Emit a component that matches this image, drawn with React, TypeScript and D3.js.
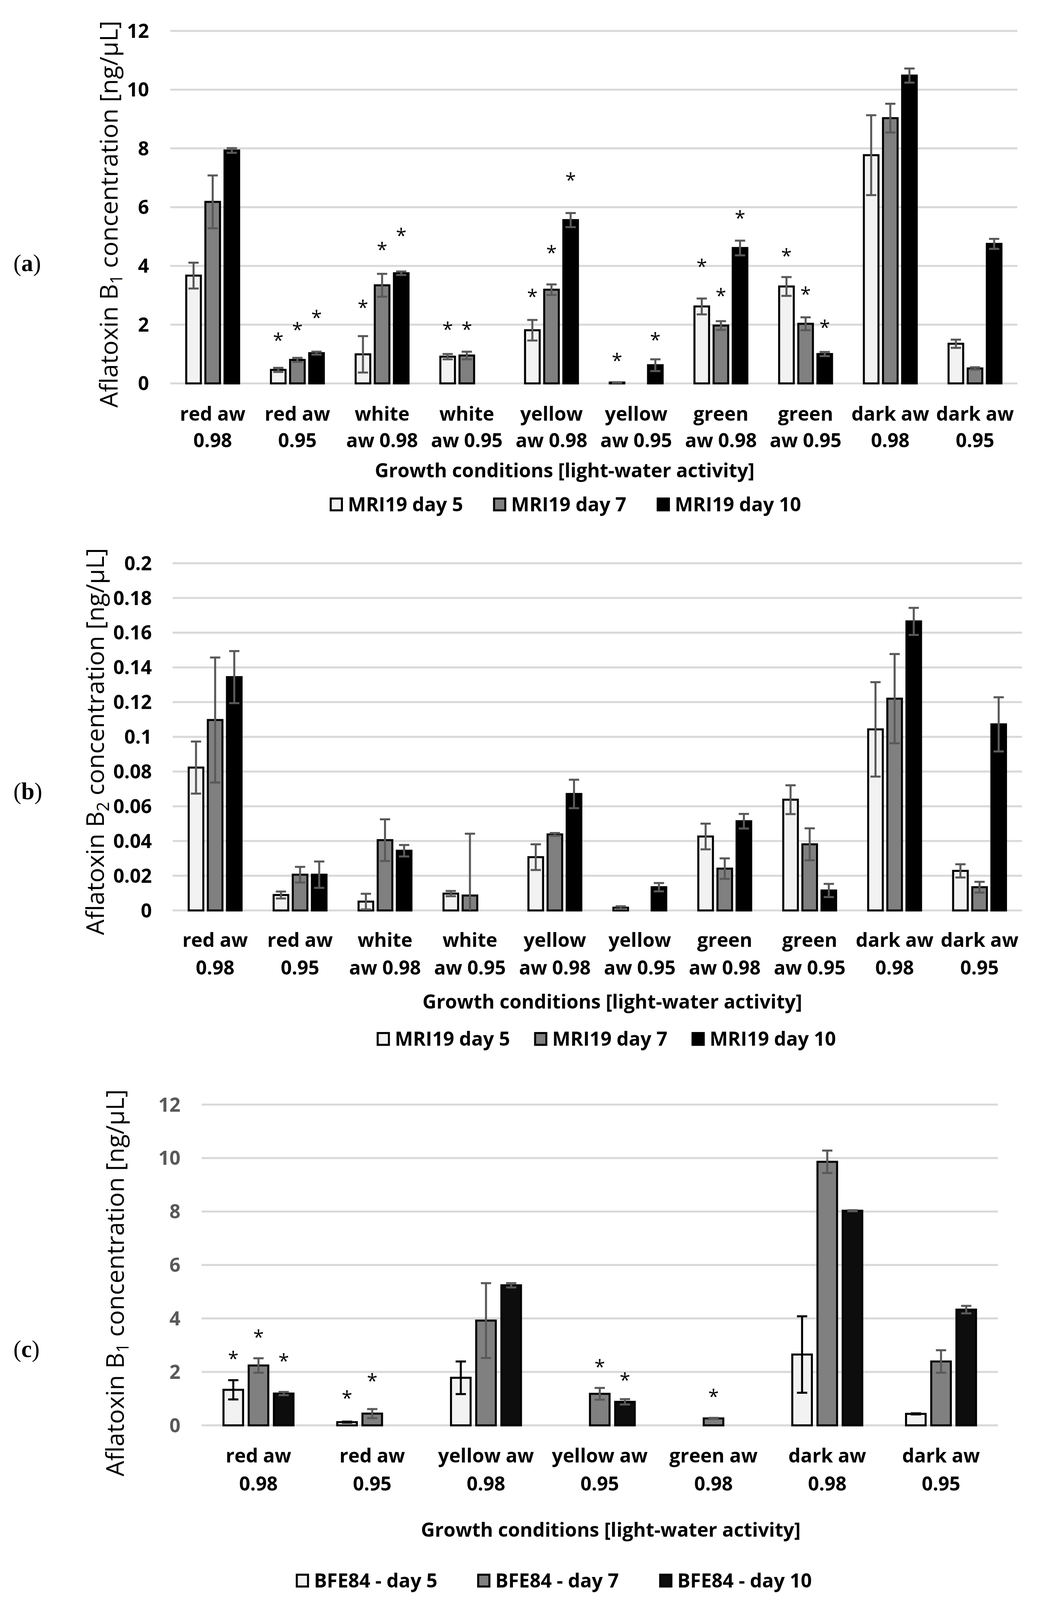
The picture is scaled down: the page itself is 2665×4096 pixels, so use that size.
import React from 'react';
import * as d3 from 'd3';

// category labels (two lines each)
const catsAB = [
  ['red aw', '0.98'], ['red aw', '0.95'], ['white', 'aw 0.98'], ['white', 'aw 0.95'],
  ['yellow', 'aw 0.98'], ['yellow', 'aw 0.95'], ['green', 'aw 0.98'], ['green', 'aw 0.95'],
  ['dark aw', '0.98'], ['dark aw', '0.95'],
];
const catsC = [
  ['red aw', '0.98'], ['red aw', '0.95'], ['yellow aw', '0.98'], ['yellow aw', '0.95'],
  ['green aw', '0.98'], ['dark aw', '0.98'], ['dark aw', '0.95'],
];

// (a) aflatoxin B1, MRI19
const a5 = [3.67, 0.46, 0.99, 0.91, 1.81, 0.03, 2.62, 3.30, 7.77, 1.35];
const a5err = [0.44, 0.07, 0.62, 0.09, 0.35, 0.01, 0.27, 0.32, 1.36, 0.14];
const a5star = [null, 1.61, 2.73, 1.98, 3.10, 0.92, 4.12, 4.48, null, null];
const a7 = [6.18, 0.80, 3.34, 0.95, 3.19, null, 1.97, 2.03, 9.03, 0.51];
const a7err = [0.90, 0.07, 0.39, 0.13, 0.18, null, 0.15, 0.22, 0.49, 0.04];
const a7star = [null, 1.97, 4.70, 1.98, 4.59, null, 3.13, 3.18, null, null];
const a10 = [7.93, 1.03, 3.75, null, 5.56, 0.62, 4.61, 1.00, 10.48, 4.75];
const a10err = [0.08, 0.05, 0.06, null, 0.24, 0.20, 0.25, 0.07, 0.24, 0.17];
const a10star = [null, 2.38, 5.17, null, 7.07, 1.63, 5.78, 2.05, null, null];

// (b) aflatoxin B2, MRI19
const b5 = [0.0823, 0.0089, 0.0051, 0.0097, 0.0307, 0.0016, 0.0426, 0.0638, 0.1043, 0.0228];
const b5err = [0.015, 0.002, 0.0045, 0.0015, 0.0074, 0.0008, 0.0074, 0.0083, 0.0272, 0.0038];
const b7 = [0.1097, 0.0206, 0.0405, 0.0086, 0.0438, null, 0.0241, 0.0381, 0.122, 0.0134];
const b7err = [0.036, 0.0045, 0.012, 0.0356, 0.0008, null, 0.0059, 0.0092, 0.0257, 0.0031];
const b10 = [0.1344, 0.0206, 0.0344, null, 0.0671, 0.0134, 0.0514, 0.0115, 0.1665, 0.1072];
const b10err = [0.015, 0.0076, 0.0033, null, 0.0082, 0.0024, 0.0042, 0.0038, 0.0078, 0.0156];
const noStars = catsAB.map(() => null);

// (c) aflatoxin B1, BFE84
const c5 = [1.33, 0.12, 1.78, null, null, 2.65, 0.43];
const c5err = [0.36, 0.02, 0.61, null, null, 1.43, 0.02];
const c5star = [2.65, 1.18, null, null, null, null, null];
const c7 = [2.24, 0.44, 3.92, 1.18, 0.26, 9.86, 2.39];
const c7err = [0.27, 0.17, 1.40, 0.22, 0.02, 0.42, 0.42];
const c7star = [3.46, 1.82, null, 2.34, 1.23, null, null];
const c10 = [1.19, null, 5.24, 0.88, null, 8.03, 4.33];
const c10err = [0.06, null, 0.08, 0.10, null, 0.02, 0.14];
const c10star = [2.56, null, null, 1.85, null, null, null];

const ticksA = [0, 2, 4, 6, 8, 10, 12];
const ticksB = [0, 0.02, 0.04, 0.06, 0.08, 0.1, 0.12, 0.14, 0.16, 0.18, 0.2];
const ticksC = [0, 2, 4, 6, 8, 10, 12];

const legendA = ['MRI19 day 5', 'MRI19 day 7', 'MRI19 day 10'];
const legendC = ['BFE84 - day 5', 'BFE84 - day 7', 'BFE84 - day 10'];

const FONT = "'Open Sans', 'Noto Sans', sans-serif";
const SERIF = "'Liberation Serif', 'DejaVu Serif', serif";
const GRID = '#d9d9d9';
const ERR = '#595959';
const SW = 6.5;

type Series = {
  name: string;
  fill: string;
  errColor: string;
  values: (number | null)[];
  errs: (number | null)[];
  stars: (number | null)[];
};

type Cfg = {
  label: string;
  sub: string;
  cats: string[][];
  series: Series[];
  ticks: number[];
  tickColor: string;
  left: number;
  right: number;
  yTop: number;
  yZero: number;
  outerPad: number;
  barW: number;
  tickRight: number;
  titleX: number;
  titleY: number;
  labelY: number;
  cat1: number;
  cat2: number;
  growthX: number;
  growthY: number;
  legendY: number;
  legendXs: number[];
};

const Panel = ({ cfg }: { cfg: Cfg }) => {
  const x0 = d3.scaleBand<number>().domain(cfg.cats.map((_, i) => i)).range([cfg.left, cfg.right]);
  const x1 = d3.scaleBand<string>()
    .domain(cfg.series.map((s) => s.name))
    .range([0, x0.bandwidth()])
    .paddingOuter(cfg.outerPad);
  const y = d3.scaleLinear()
    .domain([0, cfg.ticks[cfg.ticks.length - 1]])
    .range([cfg.yZero, cfg.yTop]);
  const fs = 62;
  const cap = 16.5;

  return (
    <g>
      {cfg.ticks.map((t) => (
        <g key={t}>
          <line x1={cfg.left} x2={cfg.right} y1={y(t)} y2={y(t)} stroke={GRID} strokeWidth={SW} />
          <text x={cfg.tickRight} y={y(t)} dy="0.36em" textAnchor="end" fontFamily={FONT}
            fontWeight={700} fontSize={fs} fill={cfg.tickColor}>{String(t)}</text>
        </g>
      ))}

      {cfg.series.map((s) => s.values.map((v, i) => {
        if (v == null) return null;
        const cx = (x0(i) ?? 0) + (x1(s.name) ?? 0) + x1.bandwidth() / 2;
        const e = s.errs[i] ?? 0;
        const top = y(v + e);
        const low = v - e;
        const bot = y(Math.max(0, low));
        const st = s.stars[i];
        return (
          <g key={s.name + i}>
            <rect x={cx - cfg.barW / 2} y={y(v)} width={cfg.barW} height={cfg.yZero - y(v)}
              fill={s.fill} stroke="#000" strokeWidth={SW} />
            <line x1={cx} x2={cx} y1={top} y2={bot} stroke={s.errColor} strokeWidth={SW} />
            <line x1={cx - cap} x2={cx + cap} y1={top} y2={top} stroke={s.errColor} strokeWidth={SW} />
            {low > 0 && (
              <line x1={cx - cap} x2={cx + cap} y1={bot} y2={bot} stroke={s.errColor} strokeWidth={SW} />
            )}
            {st != null && (
              <text x={cx} y={y(st)} dy={36} textAnchor="middle" fontFamily={FONT} fontSize={62}
                fill="#000">*</text>
            )}
          </g>
        );
      }))}

      {cfg.cats.map((c, i) => {
        const cx = (x0(i) ?? 0) + x0.bandwidth() / 2;
        return (
          <g key={'c' + i} fontFamily={FONT} fontWeight={700} fontSize={fs} textAnchor="middle" fill="#000">
            <text x={cx} y={cfg.cat1 + 22}>{c[0]}</text>
            <text x={cx} y={cfg.cat2 + 22}>{c[1]}</text>
          </g>
        );
      })}

      <text transform={`translate(${cfg.titleX},${cfg.titleY}) rotate(-90)`} textAnchor="middle"
        dy="0.36em" fontFamily={FONT} fontSize={79} fill="#000">
        Aflatoxin B<tspan fontSize={54} dy={16}>{cfg.sub}</tspan>
        <tspan dy={-16}> concentration [ng/μL]</tspan>
      </text>

      <text x={43} y={cfg.labelY + 24} fontFamily={SERIF} fontSize={76} fill="#000">
        (<tspan fontWeight={700}>{cfg.label}</tspan>)
      </text>

      <text x={cfg.growthX} y={cfg.growthY + 22} textAnchor="middle" fontFamily={FONT}
        fontWeight={700} fontSize={fs} fill="#000">
        Growth conditions  [light-water activity]
      </text>

      {cfg.series.map((s, j) => (
        <g key={'l' + j}>
          <rect x={cfg.legendXs[j] + 3} y={cfg.legendY - 19} width={36} height={38}
            fill={s.fill} stroke="#000" strokeWidth={SW} />
          <text x={cfg.legendXs[j] + 58} y={cfg.legendY + 22} fontFamily={FONT} fontWeight={700}
            fontSize={fs} fill="#000">{s.name}</text>
        </g>
      ))}
    </g>
  );
};

const cfgA: Cfg = {
  label: 'a', sub: '1', cats: catsAB,
  series: [
    { name: legendA[0], fill: '#f2f2f2', errColor: ERR, values: a5, errs: a5err, stars: a5star },
    { name: legendA[1], fill: '#808080', errColor: ERR, values: a7, errs: a7err, stars: a7star },
    { name: legendA[2], fill: '#000000', errColor: ERR, values: a10, errs: a10err, stars: a10star },
  ],
  ticks: ticksA, tickColor: '#000',
  left: 547.5, right: 3270, yTop: 99, yZero: 1232, outerPad: 0.713, barW: 47,
  tickRight: 479, titleX: 349, titleY: 688, labelY: 847,
  cat1: 1330, cat2: 1415, growthX: 1815, growthY: 1512,
  legendY: 1621, legendXs: [1060, 1585, 2111],
};

const cfgB: Cfg = {
  label: 'b', sub: '2', cats: catsAB,
  series: [
    { name: legendA[0], fill: '#f2f2f2', errColor: ERR, values: b5, errs: b5err, stars: noStars },
    { name: legendA[1], fill: '#808080', errColor: ERR, values: b7, errs: b7err, stars: noStars },
    { name: legendA[2], fill: '#000000', errColor: ERR, values: b10, errs: b10err, stars: noStars },
  ],
  ticks: ticksB, tickColor: '#000',
  left: 555, right: 3285, yTop: 1810, yZero: 2926, outerPad: 0.72, barW: 47,
  tickRight: 488, titleX: 306, titleY: 2383, labelY: 2545,
  cat1: 3021, cat2: 3110, growthX: 1968, growthY: 3219,
  legendY: 3339, legendXs: [1211, 1717, 2223],
};

const cfgC: Cfg = {
  label: 'c', sub: '1', cats: catsC,
  series: [
    { name: legendC[0], fill: '#f2f2f2', errColor: '#000', values: c5, errs: c5err, stars: c5star },
    { name: legendC[1], fill: '#808080', errColor: ERR, values: c7, errs: c7err, stars: c7star },
    { name: legendC[2], fill: '#0d0d0d', errColor: ERR, values: c10, errs: c10err, stars: c10star },
  ],
  ticks: ticksC, tickColor: '#595959',
  left: 648, right: 3207.5, yTop: 3550, yZero: 4581, outerPad: 0.757, barW: 63,
  tickRight: 580, titleX: 369, titleY: 4123, labelY: 4337,
  cat1: 4678, cat2: 4769, growthX: 1963, growthY: 4917,
  legendY: 5080, legendXs: [951, 1534, 2119],
};

export default function App() {
  return (
    <svg width={2665} height={4096} viewBox="0 0 3346 5142"
      style={{ position: 'absolute', left: 0, top: 0, display: 'block', background: '#fff' }}>
      <rect x={0} y={0} width={3346} height={5142} fill="#fff" />
      <Panel cfg={cfgA} />
      <Panel cfg={cfgB} />
      <Panel cfg={cfgC} />
    </svg>
  );
}
